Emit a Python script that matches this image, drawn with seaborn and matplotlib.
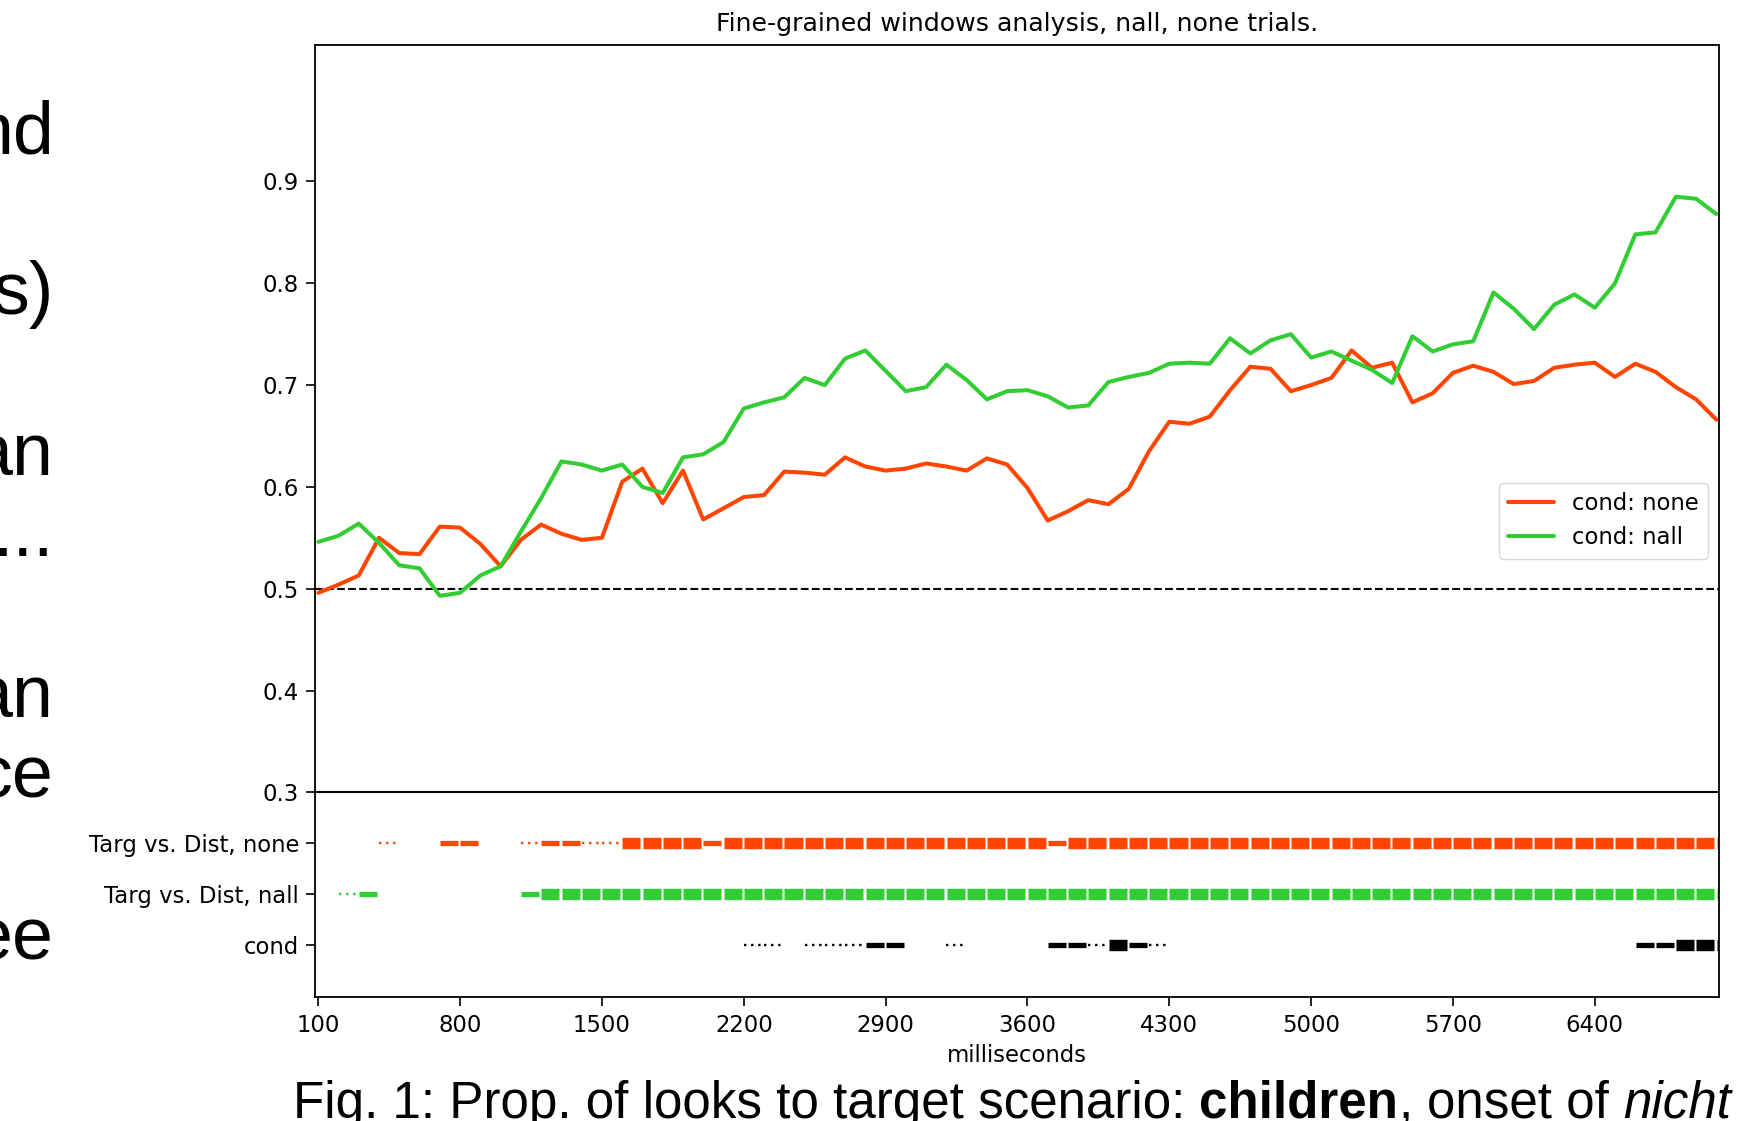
import numpy as np
import pandas as pd
import matplotlib
matplotlib.use("Agg")
import matplotlib.pyplot as plt
import seaborn as sns

# ---- data -----------------------------------------------------------------
ms = [100, 200, 300, 400, 500, 600, 700, 800, 900, 1000,
      1100, 1200, 1300, 1400, 1500, 1600, 1700, 1800, 1900, 2000,
      2100, 2200, 2300, 2400, 2500, 2600, 2700, 2800, 2900, 3000,
      3100, 3200, 3300, 3400, 3500, 3600, 3700, 3800, 3900, 4000,
      4100, 4200, 4300, 4400, 4500, 4600, 4700, 4800, 4900, 5000,
      5100, 5200, 5300, 5400, 5500, 5600, 5700, 5800, 5900, 6000,
      6100, 6200, 6300, 6400, 6500, 6600, 6700, 6800, 6900, 7000]

prop_none = [0.496, 0.504, 0.513, 0.550, 0.535, 0.534, 0.561, 0.560, 0.544, 0.522,
             0.548, 0.563, 0.554, 0.548, 0.550, 0.605, 0.618, 0.584, 0.616, 0.568,
             0.579, 0.590, 0.592, 0.615, 0.614, 0.612, 0.629, 0.620, 0.616, 0.618,
             0.623, 0.620, 0.616, 0.628, 0.622, 0.599, 0.567, 0.576, 0.587, 0.583,
             0.598, 0.635, 0.664, 0.662, 0.669, 0.695, 0.718, 0.716, 0.694, 0.700,
             0.707, 0.734, 0.717, 0.722, 0.683, 0.692, 0.712, 0.719, 0.713, 0.701,
             0.704, 0.717, 0.720, 0.722, 0.708, 0.721, 0.713, 0.698, 0.686, 0.666]

prop_nall = [0.546, 0.552, 0.564, 0.545, 0.523, 0.520, 0.493, 0.496, 0.513, 0.522,
             0.556, 0.589, 0.625, 0.622, 0.616, 0.622, 0.600, 0.594, 0.629, 0.632,
             0.644, 0.677, 0.683, 0.688, 0.707, 0.700, 0.726, 0.734, 0.714, 0.694,
             0.698, 0.720, 0.705, 0.686, 0.694, 0.695, 0.689, 0.678, 0.680, 0.703,
             0.708, 0.712, 0.721, 0.722, 0.721, 0.746, 0.731, 0.744, 0.750, 0.727,
             0.733, 0.724, 0.715, 0.702, 0.748, 0.733, 0.740, 0.743, 0.791, 0.775,
             0.755, 0.779, 0.789, 0.776, 0.800, 0.848, 0.850, 0.885, 0.883, 0.868]

cond_labels = ["cond: none", "cond: nall"]
line_colors = ["#FF4500", "#32CD32"]

# significance per 100 ms window starting at each `ms` value
# 0 = n.s., 1 = p < .1, 2 = p < .05, 3 = p < .01
sig_none = [0, 0, 0, 1, 0, 0, 2, 2, 0, 0,
            1, 2, 2, 1, 1, 3, 3, 3, 3, 2,
            3, 3, 3, 3, 3, 3, 3, 3, 3, 3,
            3, 3, 3, 3, 3, 3, 2, 3, 3, 3,
            3, 3, 3, 3, 3, 3, 3, 3, 3, 3,
            3, 3, 3, 3, 3, 3, 3, 3, 3, 3,
            3, 3, 3, 3, 3, 3, 3, 3, 3, 3]
sig_nall = [0, 1, 2, 0, 0, 0, 0, 0, 0, 0,
            2, 3, 3, 3, 3, 3, 3, 3, 3, 3,
            3, 3, 3, 3, 3, 3, 3, 3, 3, 3,
            3, 3, 3, 3, 3, 3, 3, 3, 3, 3,
            3, 3, 3, 3, 3, 3, 3, 3, 3, 3,
            3, 3, 3, 3, 3, 3, 3, 3, 3, 3,
            3, 3, 3, 3, 3, 3, 3, 3, 3, 3]
sig_cond = [0, 0, 0, 0, 0, 0, 0, 0, 0, 0,
            0, 0, 0, 0, 0, 0, 0, 0, 0, 0,
            0, 1, 1, 0, 1, 1, 1, 2, 2, 0,
            0, 1, 0, 0, 0, 0, 2, 2, 1, 3,
            2, 1, 0, 0, 0, 0, 0, 0, 0, 0,
            0, 0, 0, 0, 0, 0, 0, 0, 0, 0,
            0, 0, 0, 0, 0, 2, 2, 3, 3, 3]

sig_rows = ["Targ vs. Dist, none", "Targ vs. Dist, nall", "cond"]
sig_colors = ["#FF4500", "#32CD32", "black"]
sig_ypos = [0.25, 0.20, 0.15]

yticks_main = [0.3, 0.4, 0.5, 0.6, 0.7, 0.8, 0.9]
xticks = [100, 800, 1500, 2200, 2900, 3600, 4300, 5000, 5700, 6400]

# ---- style ----------------------------------------------------------------
sns.set_style("ticks")
base = 16.4
plt.rcParams.update({
    "font.family": ["DejaVu Sans"],
    "font.size": base,
    "axes.edgecolor": "black",
    "axes.linewidth": 1.3,
    "text.color": "black",
    "axes.labelcolor": "black",
    "xtick.color": "black",
    "ytick.color": "black",
    "xtick.major.size": 6.5,
    "ytick.major.size": 6.5,
    "xtick.major.width": 1.2,
    "ytick.major.width": 1.2,
    "xtick.major.pad": 5.5,
    "ytick.major.pad": 5.0,
    "xtick.labelsize": base,
    "ytick.labelsize": base,
})

W, H = 1745, 1121
fig = plt.figure(figsize=(W / 100, H / 100), dpi=100)
fig.patch.set_facecolor("white")
ax = fig.add_axes([315 / W, 1 - 997 / H, (1719.4 - 315) / W, (997 - 44.5) / H])
for s in ax.spines.values():
    s.set_visible(True)
    s.set_color("black")
    s.set_linewidth(1.3)

df = pd.DataFrame({
    "ms": ms + ms,
    "prop": prop_none + prop_nall,
    "cond": [cond_labels[0]] * len(ms) + [cond_labels[1]] * len(ms),
})
sns.lineplot(data=df, x="ms", y="prop", hue="cond", hue_order=cond_labels,
             palette=dict(zip(cond_labels, line_colors)), linewidth=2.9,
             errorbar=None, legend=False, ax=ax)
handles = list(ax.lines[:2])

ax.axhline(0.5, color="black", linestyle="--", linewidth=1.5, zorder=1)
ax.axhline(0.3, color="black", linestyle="-", linewidth=1.5, zorder=1)

# significance strips, one segment per window
for levels, color, yv in zip([sig_none, sig_nall, sig_cond], sig_colors, sig_ypos):
    for t, lev in zip(ms, levels):
        if lev == 1:
            ax.plot([t, t + 100], [yv, yv], color=color, linewidth=1.7,
                    linestyle=(0, (1, 2)), dash_capstyle="butt")
        elif lev == 2:
            ax.plot([t + 1, t + 90], [yv, yv], color=color, linewidth=3.8,
                    solid_capstyle="butt")
        elif lev == 3:
            ax.plot([t + 1, t + 90], [yv, yv], color=color, linewidth=8.2,
                    solid_capstyle="butt")

ax.set_xlim(84, 7015)
ax.set_ylim(0.099, 1.0345)
ax.set_xticks(xticks)
ax.set_xticklabels([str(v) for v in xticks])
ax.set_yticks(sig_ypos[::-1] + yticks_main)
ax.set_yticklabels(sig_rows[::-1] + [f"{v:.1f}" for v in yticks_main])
ax.set_xlabel("milliseconds", fontsize=base, labelpad=5)
ax.set_ylabel("")
ax.set_title("Fine-grained windows analysis, nall, none trials.",
             fontsize=18.2, pad=10)

ax.legend(handles, cond_labels, loc="center right", fontsize=base,
          frameon=True, framealpha=0.8, edgecolor="0.8")

# ---- surrounding slide text -------------------------------------------------
slide_font = "Liberation Sans"
side = [("nd", 153), ("s)", 314), ("an", 476), ("...", 556),
        ("an", 718), ("ce", 798), ("ee", 960)]
for txt, base_y in side:
    fig.text(54 / W, 1 - base_y / H, txt, ha="right", va="baseline",
             fontsize=53, family=slide_font, color="black")

renderer = fig.canvas.get_renderer()
cap_size = 36.8
space_px = 0.278 * cap_size * 100 / 72
x_px = 293.0
y_frac = 1 - 1118 / H
pieces = [("Fig. 1: Prop. of looks to target scenario:", "normal", "normal", True),
          ("children", "bold", "normal", False),
          (",", "normal", "normal", True),
          ("onset of", "normal", "normal", True),
          ("nicht", "normal", "italic", False)]
for txt, weight, style, add_space in pieces:
    t = fig.text(x_px / W, y_frac, txt, ha="left", va="baseline",
                 fontsize=cap_size, family=slide_font, weight=weight,
                 style=style, color="black")
    bb = t.get_window_extent(renderer)
    x_px = bb.x1 + (space_px if add_space else 0)

fig.savefig("out.png", dpi=100, facecolor="white")
